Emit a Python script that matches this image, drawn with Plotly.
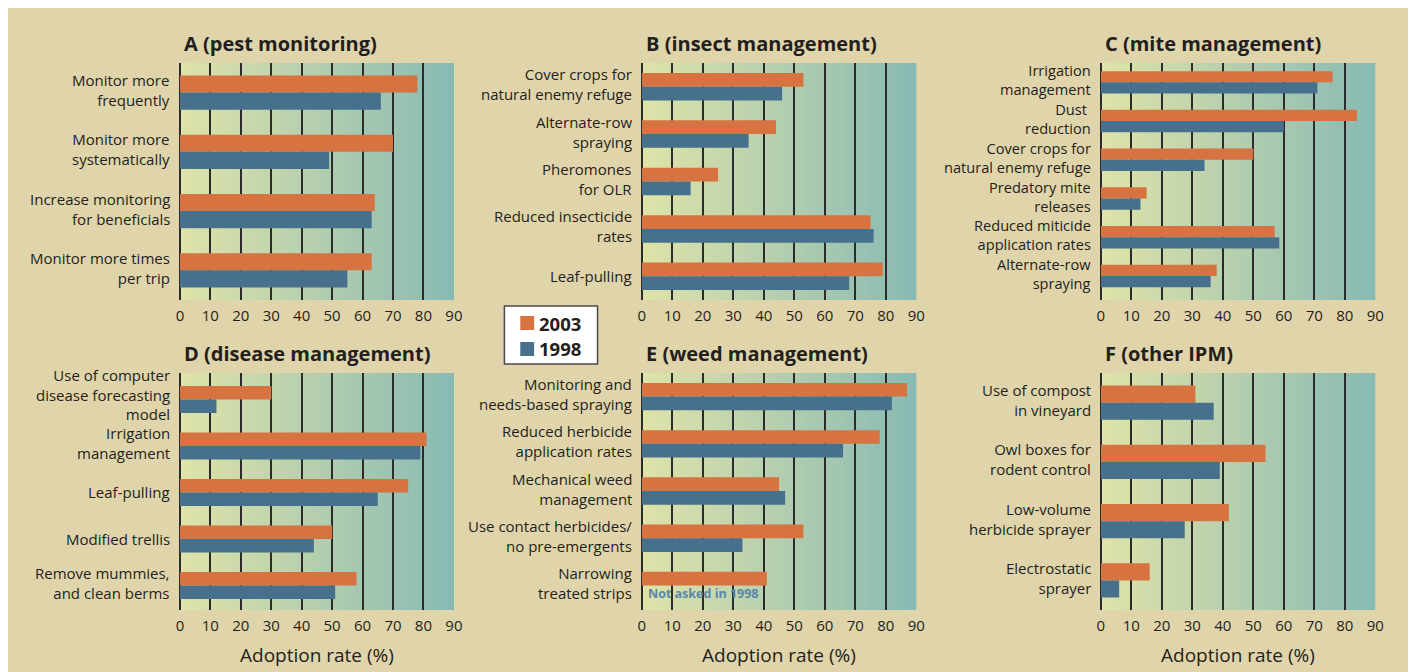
import plotly.graph_objects as go

# page body has an 8px margin: the figure is drawn from (8, 8) in the window
OFF = 8
W, H = 1416 - OFF, 672 - OFF

# ---------------- data ----------------
a_labels = ["Monitor more\nfrequently", "Monitor more\nsystematically",
            "Increase monitoring\nfor beneficials", "Monitor more times\nper trip"]
a_2003 = [78, 70, 64, 63]
a_1998 = [66, 49, 63, 55]

b_labels = ["Cover crops for\nnatural enemy refuge", "Alternate-row\nspraying",
            "Pheromones\nfor OLR", "Reduced insecticide\nrates", "Leaf-pulling"]
b_2003 = [53, 44, 25, 75, 79]
b_1998 = [46, 35, 16, 76, 68]

c_labels = ["Irrigation\nmanagement", "Dust\u00a0\nreduction",
            "Cover crops for\nnatural enemy refuge", "Predatory mite\nreleases",
            "Reduced miticide\napplication rates", "Alternate-row\nspraying"]
c_2003 = [76, 84, 50, 15, 57, 38]
c_1998 = [71, 60, 34, 13, 58.5, 36]

d_labels = ["Use of computer\ndisease forecasting\nmodel", "Irrigation\nmanagement",
            "Leaf-pulling", "Modified trellis", "Remove mummies,\nand clean berms"]
d_2003 = [30, 81, 75, 50, 58]
d_1998 = [12, 79, 65, 44, 51]

e_labels = ["Monitoring and\nneeds-based spraying", "Reduced herbicide\napplication rates",
            "Mechanical weed\nmanagement", "Use contact herbicides/\nno pre-emergents",
            "Narrowing\ntreated strips"]
e_2003 = [87, 78, 45, 53, 41]
e_1998 = [82, 66, 47, 33, None]

f_labels = ["Use of compost\nin vineyard", "Owl boxes for\nrodent control",
            "Low-volume\nherbicide sprayer", "Electrostatic\nsprayer"]
f_2003 = [31, 54, 42, 16]
f_1998 = [37, 39, 27.5, 6]

titles = ["A (pest monitoring)", "B (insect management)", "C (mite management)",
          "D (disease management)", "E (weed management)", "F (other IPM)"]
series_names = ["2003", "1998"]
x_ticks = [0, 10, 20, 30, 40, 50, 60, 70, 80, 90]
x_title = "Adoption rate (%)"
not_asked_note = "Not asked in 1998"

panels = [
    (a_labels, a_2003, a_1998),
    (b_labels, b_2003, b_1998),
    (c_labels, c_2003, c_1998),
    (d_labels, d_2003, d_1998),
    (e_labels, e_2003, e_1998),
    (f_labels, f_2003, f_1998),
]

# ---------------- style ----------------
FONT = "Open Sans"
TXT = "#231f20"
ORANGE = "#d67340"
BLUE = "#46708b"
BEIGE = "#e0d4aa"
GRAD_L = (223, 227, 169)
GRAD_R = (136, 186, 180)
GRID = "#2b2b2b"
COLORS = [ORANGE, BLUE]

# window-pixel geometry of the plot areas
col_px = [(177.5, 454.0), (643.7, 920.7), (1107.0, 1384.0)]
row_px = [(63.0, 300.0), (373.0, 610.0)]
label_size = [15, 15, 14.6, 15, 15, 15]


def px_x(X):
    return (X - OFF) / W


def px_y(Y):
    return 1 - (Y - OFF) / H


fig = go.Figure()
shapes = []
annotations = []
layout_axes = {}

for p, (labels, v03, v98) in enumerate(panels):
    r, c = divmod(p, 3)
    n = p + 1
    xa = "x" if n == 1 else f"x{n}"
    ya = "y" if n == 1 else f"y{n}"
    xkey = "xaxis" if n == 1 else f"xaxis{n}"
    ykey = "yaxis" if n == 1 else f"yaxis{n}"

    for s, vals in enumerate((v03, v98)):
        fig.add_trace(go.Bar(y=labels, x=vals, orientation="h", name=series_names[s],
                             marker=dict(color=COLORS[s], line=dict(width=0)),
                             xaxis=xa, yaxis=ya, showlegend=False))

    layout_axes[xkey] = dict(
        domain=[px_x(col_px[c][0]), px_x(col_px[c][1])], anchor=ya,
        range=[0, 90], tickvals=x_ticks,
        showgrid=True, gridcolor=GRID, gridwidth=2, zeroline=True,
        zerolinecolor=GRID, zerolinewidth=2, showline=False, ticks="",
        ticklabelstandoff=5,
        tickfont=dict(family=FONT, size=15, color=TXT), fixedrange=True,
    )
    layout_axes[ykey] = dict(
        domain=[px_y(row_px[r][1]), px_y(row_px[r][0])], anchor=xa,
        type="category", categoryorder="array",
        categoryarray=labels, autorange="reversed", showticklabels=False,
        showgrid=False, zeroline=False, showline=False, ticks="", fixedrange=True,
    )

    # gradient background
    steps = 90
    for k in range(steps):
        t = (k + 0.5) / steps
        col = tuple(round(GRAD_L[j] + (GRAD_R[j] - GRAD_L[j]) * t) for j in range(3))
        shapes.append(dict(type="rect", xref=xa, yref=f"{ya} domain",
                           x0=k * 90 / steps, x1=(k + 1) * 90 / steps + 0.3,
                           y0=0, y1=1, fillcolor="rgb(%d,%d,%d)" % col,
                           line=dict(width=0), layer="below"))

    # category labels
    for lab in labels:
        m = lab.count("\n") + 1
        annotations.append(dict(
            x=0, xref=f"{xa} domain", y=lab, yref=ya, text=lab.replace("\n", "<br>"),
            xanchor="right", yanchor="middle", align="right", xshift=-8,
            yshift=(m - 1) * 2.5, showarrow=False,
            font=dict(family=FONT, size=label_size[p], color=TXT)))

    # panel title
    annotations.append(dict(
        x=0, xref=f"{xa} domain", y=1, yref=f"{ya} domain", text="<b>%s</b>" % titles[p],
        xanchor="left", yanchor="bottom", xshift=2, yshift=4, showarrow=False,
        font=dict(family=FONT, size=20, color=TXT)))

    if r == 1:
        annotations.append(dict(
            x=0.5, xref=f"{xa} domain", y=px_y(655), yref="paper", text=x_title,
            xanchor="center", yanchor="middle", showarrow=False,
            font=dict(family=FONT, size=19, color=TXT)))

# "Not asked" note in panel E
annotations.append(dict(
    x=1.3, xref="x5", y=e_labels[-1], yref="y5", text="<b>%s</b>" % not_asked_note,
    xanchor="left", yanchor="middle", yshift=-8, showarrow=False,
    font=dict(family=FONT, size=12.5, color="#5a88a8")))

# legend box (drawn by hand to match the boxed key)
shapes.append(dict(type="rect", xref="paper", yref="paper",
                   x0=px_x(505), x1=px_x(599), y0=px_y(364), y1=px_y(306),
                   fillcolor="white", line=dict(color="#4a4a4a", width=1.5), layer="above"))
for s, cy in enumerate((323, 349)):
    shapes.append(dict(type="rect", xref="paper", yref="paper",
                       x0=px_x(521), x1=px_x(535), y0=px_y(cy + 7), y1=px_y(cy - 7),
                       fillcolor=COLORS[s], line=dict(width=0), layer="above"))
    annotations.append(dict(
        x=px_x(538), y=px_y(cy), xref="paper", yref="paper",
        text="<b>%s</b>" % series_names[s], xanchor="left", yanchor="middle",
        showarrow=False, font=dict(family=FONT, size=18.5, color=TXT)))

fig.update_layout(
    width=W, height=H, margin=dict(l=0, r=0, t=0, b=0),
    paper_bgcolor=BEIGE, plot_bgcolor="rgba(0,0,0,0)",
    barmode="group", bargap=0.42, bargroupgap=0,
    font=dict(family=FONT, color=TXT),
    showlegend=False,
    shapes=shapes, annotations=annotations,
    **layout_axes,
)

fig.write_html("out.html")
